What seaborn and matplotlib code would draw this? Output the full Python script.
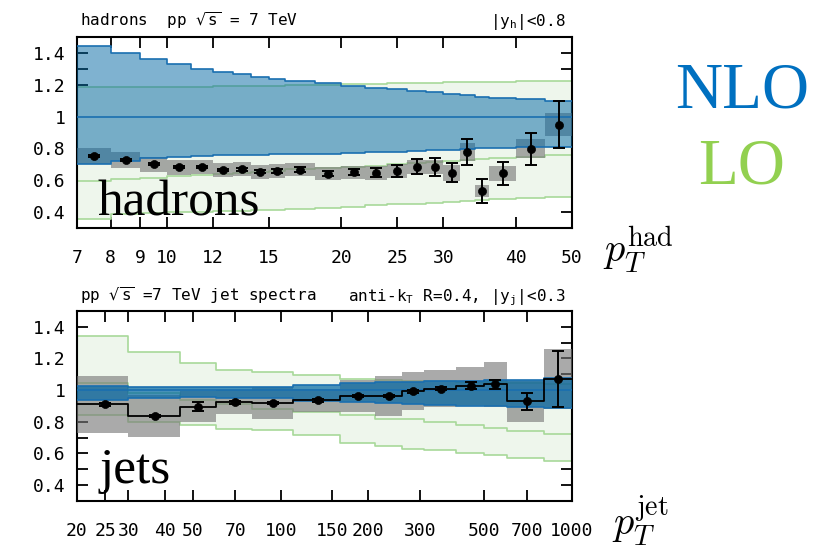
import numpy as np
import matplotlib
matplotlib.use("Agg")
import matplotlib.pyplot as plt
import seaborn as sns
from matplotlib.ticker import FixedLocator, FixedFormatter, MultipleLocator, NullLocator

# ---- hadrons (ratio to NLO), bins in pT [GeV]
had_edges = [7, 8, 9, 10, 11, 12, 13, 14, 15, 16, 18, 20, 22, 24, 26, 28, 30, 32, 34, 36, 40, 45, 50]
had_pt = [7.5, 8.5, 9.5, 10.5, 11.5, 12.5, 13.5, 14.5, 15.5, 17, 19, 21, 23, 25, 27, 29, 31, 33, 35, 38, 42.5, 47.5]
had_ratio = [0.754, 0.727, 0.700, 0.681, 0.684, 0.665, 0.669, 0.654, 0.660, 0.667, 0.642, 0.650,
             0.646, 0.659, 0.686, 0.684, 0.648, 0.777, 0.534, 0.644, 0.798, 0.950]
had_stat = [0.006, 0.006, 0.006, 0.007, 0.007, 0.008, 0.009, 0.010, 0.012, 0.014, 0.016, 0.019,
            0.028, 0.037, 0.048, 0.057, 0.060, 0.081, 0.077, 0.073, 0.099, 0.146]
had_sys = [0.050, 0.050, 0.048, 0.046, 0.045, 0.044, 0.044, 0.043, 0.043, 0.043, 0.042, 0.042,
           0.042, 0.043, 0.044, 0.045, 0.050, 0.059, 0.038, 0.047, 0.060, 0.073]
had_nlo_up = [1.444, 1.400, 1.359, 1.329, 1.300, 1.280, 1.265, 1.250, 1.235, 1.225, 1.210, 1.195,
              1.182, 1.172, 1.163, 1.155, 1.145, 1.135, 1.125, 1.118, 1.110, 1.100]
had_nlo_lo = [0.705, 0.722, 0.738, 0.748, 0.752, 0.756, 0.758, 0.760, 0.762, 0.764, 0.768, 0.772,
              0.776, 0.780, 0.784, 0.788, 0.792, 0.796, 0.800, 0.803, 0.806, 0.810]
had_lo_up = [1.184, 1.185, 1.186, 1.187, 1.188, 1.190, 1.190, 1.192, 1.194, 1.196, 1.200, 1.203,
             1.206, 1.208, 1.210, 1.212, 1.215, 1.217, 1.219, 1.220, 1.222, 1.225]
had_lo_mid = [0.594, 0.605, 0.615, 0.625, 0.632, 0.640, 0.647, 0.653, 0.660, 0.668, 0.676, 0.684,
              0.692, 0.700, 0.707, 0.714, 0.720, 0.726, 0.732, 0.738, 0.746, 0.756]
had_lo_lo = [0.355, 0.385, 0.392, 0.398, 0.403, 0.407, 0.410, 0.413, 0.416, 0.420, 0.428, 0.435,
             0.442, 0.448, 0.454, 0.460, 0.466, 0.471, 0.476, 0.481, 0.488, 0.495]
had_ticks = [7, 8, 9, 10, 12, 15, 20, 25, 30, 40, 50]

# ---- jets (ratio to NLO), bins in pT [GeV]
jet_edges = [20, 30, 45, 60, 80, 110, 160, 210, 260, 310, 400, 500, 600, 800, 1000]
jet_pt = [25, 37, 52, 70, 94, 134, 185, 235, 284, 355, 449, 545, 700, 894]
jet_ratio = [0.910, 0.837, 0.896, 0.923, 0.919, 0.935, 0.962, 0.964, 0.994, 1.010, 1.027, 1.037, 0.930, 1.070]
jet_stat = [0.008, 0.008, 0.030, 0.008, 0.008, 0.007, 0.007, 0.008, 0.009, 0.012, 0.022, 0.029, 0.053, 0.179]
jet_sys = [0.180, 0.133, 0.100, 0.075, 0.100, 0.075, 0.100, 0.125, 0.120, 0.115, 0.118, 0.143, 0.130, 0.190]
jet_nlo_up = [1.027, 1.022, 1.017, 1.017, 1.020, 1.030, 1.044, 1.050, 1.052, 1.055, 1.060, 1.063, 1.066, 1.075]
jet_nlo_lo = [0.940, 0.948, 0.955, 0.952, 0.950, 0.933, 0.923, 0.916, 0.910, 0.906, 0.902, 0.898, 0.896, 0.890]
jet_lo_up = [1.344, 1.241, 1.173, 1.127, 1.114, 1.096, 1.069, 1.065, 1.060, 1.055, 1.050, 1.050, 1.045, 1.040]
jet_lo_mid = [1.044, 0.980, 0.940, 0.910, 0.880, 0.860, 0.840, 0.820, 0.820, 0.800, 0.780, 0.760, 0.740, 0.720]
jet_lo_lo = [0.844, 0.798, 0.780, 0.756, 0.746, 0.714, 0.666, 0.648, 0.630, 0.620, 0.600, 0.590, 0.570, 0.552]
jet_ticks = [20, 25, 30, 40, 50, 70, 100, 150, 200, 300, 500, 700, 1000]

sns.set_theme(style="ticks")
plt.rcParams['font.family'] = ['DejaVu Sans Mono', 'DejaVu Sans']
plt.rcParams['mathtext.fontset'] = 'dejavusans'
plt.rcParams['text.color'] = 'black'

NLO_LINE = "#1a6fb0"
NLO_FILL = "#0066a3"
LO_LINE = "#a8d99a"
LO_FILL = "#eef6ec"


def ext(v):
    # repeat last value so a step drawn with 'post' reaches the last edge
    return list(v) + [v[-1]]


def draw_panel(ax, edges, lo_lo, lo_mid, lo_up, nlo_lo, nlo_up, pt, ratio, stat, sys_err,
               nlo_alpha, data_line, ticks):
    e = np.array(edges, dtype=float)
    ax.set_xscale("log")
    ax.fill_between(e, ext(lo_lo), ext(lo_up), step="post", color=LO_FILL, lw=0, zorder=1)
    for v in (lo_lo, lo_mid, lo_up):
        ax.step(e, ext(v), where="post", color=LO_LINE, lw=1.2, zorder=2)

    r = np.array(ratio)
    s = np.array(sys_err)
    ax.bar(e[:-1], 2 * s, bottom=r - s, width=np.diff(e), align="edge",
           color="#777777", alpha=0.62, lw=0, zorder=3)

    ax.fill_between(e, ext(nlo_lo), ext(nlo_up), step="post", color=NLO_FILL,
                    alpha=nlo_alpha, lw=0, zorder=4)
    for v in (nlo_lo, nlo_up):
        ax.step(e, ext(v), where="post", color=NLO_LINE, lw=1.2, zorder=5)
    ax.axhline(1.0, color=NLO_LINE, lw=1.2, zorder=5)

    if data_line:
        sns.lineplot(x=e, y=ext(ratio), drawstyle="steps-post", color="black", lw=1.3,
                     estimator=None, ax=ax, zorder=6)
    ax.errorbar(pt, ratio, yerr=stat, fmt="none", ecolor="black", elinewidth=1.4,
                capsize=4, capthick=1.4, zorder=7)
    sns.scatterplot(x=pt, y=ratio, color="black", s=34, edgecolor="black", ax=ax, zorder=8)

    ax.set_xlim(edges[0], edges[-1])
    ax.set_ylim(0.3, 1.5)
    ax.xaxis.set_major_locator(FixedLocator(ticks))
    ax.xaxis.set_major_formatter(FixedFormatter([str(t) for t in ticks]))
    ax.xaxis.set_minor_locator(NullLocator())
    ax.yaxis.set_major_locator(FixedLocator([0.4, 0.6, 0.8, 1.0, 1.2, 1.4]))
    ax.yaxis.set_major_formatter(FixedFormatter(["0.4", "0.6", "0.8", "1", "1.2", "1.4"]))
    ax.yaxis.set_minor_locator(MultipleLocator(0.1))
    ax.tick_params(which="both", direction="in", top=True, right=True, width=1.3,
                   length=8, labelsize=13, colors="black")
    ax.tick_params(axis="x", pad=15)
    ax.tick_params(axis="y", pad=8)
    for sp in ax.spines.values():
        sp.set_linewidth(1.5)
        sp.set_color("black")
    ax.set_xlabel("")
    ax.set_ylabel("")


fig = plt.figure(figsize=(8.35, 5.54), dpi=100)
ax1 = fig.add_axes([0.0922, 0.5884, 0.5928, 0.3448])
ax2 = fig.add_axes([0.0922, 0.0957, 0.5928, 0.3430])

draw_panel(ax1, had_edges, had_lo_lo, had_lo_mid, had_lo_up, had_nlo_lo, had_nlo_up,
           had_pt, had_ratio, had_stat, had_sys, 0.5, False, had_ticks)
draw_panel(ax2, jet_edges, jet_lo_lo, jet_lo_mid, jet_lo_up, jet_nlo_lo, jet_nlo_up,
           jet_pt, jet_ratio, jet_stat, jet_sys, 0.7, True, jet_ticks)

# panel headers
W, H = 835.0, 554.0
fig.text(80 / W, 1 - 26 / H, r"hadrons  pp $\sqrt{\mathtt{s}}$ = 7 TeV", fontsize=11.5,
         ha="left", va="baseline")
fig.text(566 / W, 1 - 26 / H, r"|y$_\mathtt{h}$|<0.8", fontsize=11.5, ha="right", va="baseline")
fig.text(80 / W, 1 - 301 / H, r"pp $\sqrt{\mathtt{s}}$ =7 TeV jet spectra", fontsize=11.5,
         ha="left", va="baseline")
fig.text(566 / W, 1 - 301 / H, r"anti-k$_\mathtt{T}$ R=0.4, |y$_\mathtt{j}$|<0.3", fontsize=11.5,
         ha="right", va="baseline")

# big labels
fig.text(97 / W, 1 - 215 / H, "hadrons", family="Liberation Serif", fontsize=37, ha="left", va="baseline")
fig.text(100 / W, 1 - 483 / H, "jets", family="Liberation Serif", fontsize=37, ha="left", va="baseline")
fig.text(742 / W, 1 - 108 / H, "NLO", family="Liberation Serif", fontsize=47, color="#0070c0",
         ha="center", va="baseline")
fig.text(742 / W, 1 - 183 / H, "LO", family="Liberation Serif", fontsize=47, color="#92d050",
         ha="center", va="baseline")
fig.text(603 / W, 1 - 263 / H, r"$p_T^{\rm had}$", fontsize=29, math_fontfamily="cm",
         ha="left", va="baseline")
fig.text(612 / W, 1 - 536 / H, r"$p_T^{\rm jet}$", fontsize=29, math_fontfamily="cm",
         ha="left", va="baseline")

fig.savefig("out.png", dpi=100)
